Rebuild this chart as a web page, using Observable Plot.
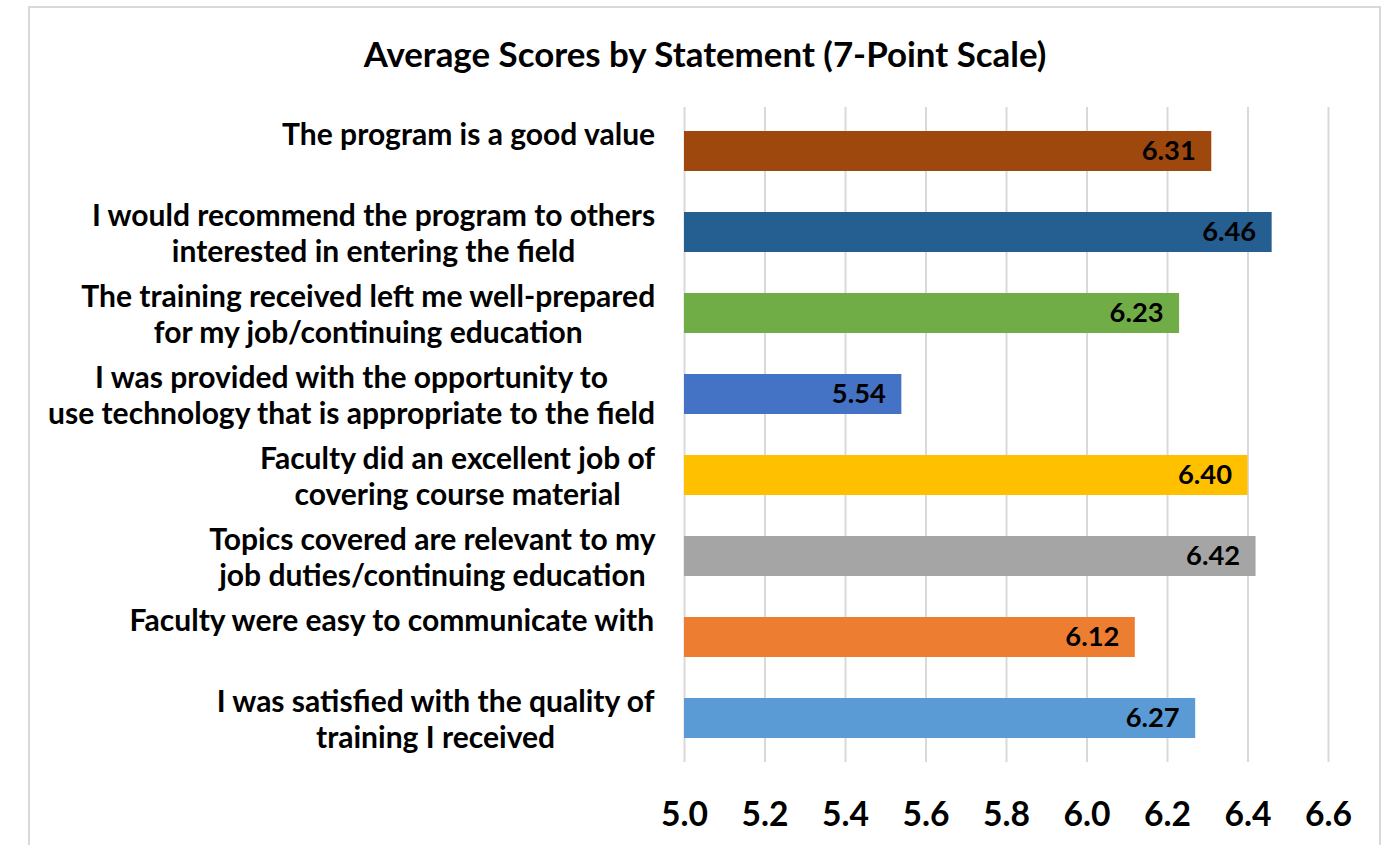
<!DOCTYPE html>
<html>
<head>
<meta charset="utf-8">
<script src="https://cdn.jsdelivr.net/npm/d3@7"></script>
<script src="https://cdn.jsdelivr.net/npm/@observablehq/plot@0.6"></script>
<style>
  body { margin: 0; background: #fff; font-family: Lato, "Open Sans", sans-serif; }
  #border { position: absolute; left: 28px; top: 6px; width: 1353px; height: 900px; border: 2px solid #d9d9d9; box-sizing: border-box; }
  #title { position: absolute; left: 29px; top: 0; width: 1352px; height: 108px; line-height: 108px; text-align: center; font-weight: 700; color: #000; white-space: nowrap; }
  #chart { position: absolute; left: 0; top: 100px; }
</style>
</head>
<body>
<div id="border"></div>
<div id="title">Average Scores by Statement (7-Point Scale)</div>
<div id="chart"></div>
<script>
const categories = [
  "The program is a good value",
  "I would recommend the program to others\ninterested in entering the field",
  "The training received left me well-prepared\nfor my job/continuing education",
  "I was provided with the opportunity to\nuse technology that is appropriate to the field",
  "Faculty did an excellent job of\ncovering course material",
  "Topics covered are relevant to my\njob duties/continuing education",
  "Faculty were easy to communicate with",
  "I was satisfied with the quality of\ntraining I received"
];
const values = [6.31, 6.46, 6.23, 5.54, 6.40, 6.42, 6.12, 6.27];
const colors = ["#9E480E", "#255E91", "#70AD47", "#4472C4", "#FFC000", "#A5A5A5", "#ED7D31", "#5B9BD5"];
const tickValues = [5.0, 5.2, 5.4, 5.6, 5.8, 6.0, 6.2, 6.4, 6.6];
const titleText = "Average Scores by Statement (7-Point Scale)";

const data = categories.map((c, i) => ({category: c, value: values[i], color: colors[i]}));

// text measurement for sizing a substitute font to the reference widths
const FONT = "Lato";
const ctx = document.createElement("canvas").getContext("2d");
function measure(text, size) { ctx.font = `bold ${size}px ${FONT}`; return ctx.measureText(text).width; }
function fit(text, target) { return 40 * target / measure(text, 40); }

const titleSize = fit(titleText, 684);
const labelSize = fit("use technology that is appropriate to the field", 608);
const valueSize = fit("6.31", 54);
const tickSize = fit("5.0", 47);
document.getElementById("title").style.fontSize = titleSize + "px";

const W = 1388, H = 745;
const mL = 684, mR = 60, mT = 7, mB = 83;
const lineH = 36;
const gap = 29; // space between label block right edge and frame

const labelMarks = categories.map(c => {
  const lines = c.split("\n");
  const w = d3.max(lines, l => measure(l, labelSize));
  return Plot.text([c], {
    y: d => d,
    text: d => d,
    frameAnchor: "left",
    textAnchor: "middle",
    dx: -(gap + w / 2),
    dy: lines.length === 1 ? -lineH / 2 : 0,
    lineHeight: lineH / labelSize,
    fontSize: labelSize,
    fontWeight: "bold",
    fill: "#000"
  });
});

const plot = Plot.plot({
  width: W,
  height: H,
  marginLeft: mL,
  marginRight: mR,
  marginTop: mT,
  marginBottom: mB,
  style: {fontFamily: FONT, color: "#000", background: "transparent"},
  x: {domain: [5.0, 6.6], axis: null, label: null},
  y: {domain: categories, paddingInner: 0.51, paddingOuter: 0.255, axis: null, label: null},
  marks: [
    Plot.gridX(tickValues, {stroke: "#d9d9d9", strokeOpacity: 1, strokeWidth: 2}),
    Plot.barX(data, {x1: 5.0, x2: "value", y: "category", fill: d => d.color}),
    Plot.text(data, {
      x: "value", y: "category", text: d => d.value.toFixed(2),
      textAnchor: "end", dx: -16, fontSize: valueSize, fontWeight: "bold", fill: "#000"
    }),
    Plot.axisX(tickValues, {
      label: null,
      tickSize: 0, tickPadding: 52 - 0.36 * tickSize, tickFormat: d3.format(".1f"),
      fontSize: tickSize, fontWeight: "bold", fill: "#000"
    }),
    ...labelMarks
  ]
});
document.getElementById("chart").appendChild(plot);
</script>
</body>
</html>
